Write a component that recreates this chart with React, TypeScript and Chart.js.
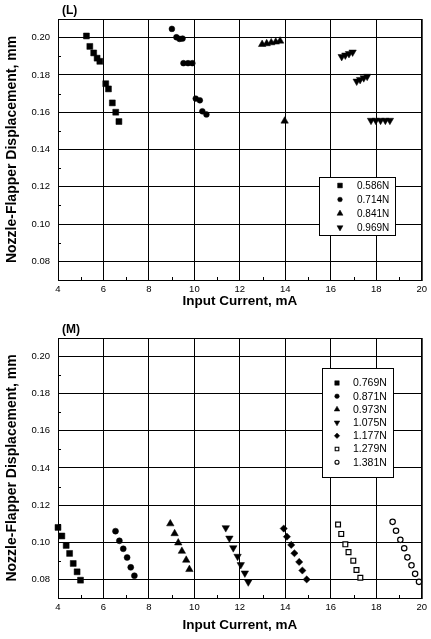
import React, { useEffect, useRef } from 'react';
import { Chart, registerables } from 'chart.js';
import { drawPoint } from 'chart.js/helpers';

Chart.register(...registerables);

// ---------- shared axes ----------
const X_MIN = 4;
const X_MAX = 20;
const Y_MIN = 0.07;
const Y_MAX = 0.21;
const X_TICKS = [4, 6, 8, 10, 12, 14, 16, 18, 20];
const Y_TICKS = [0.08, 0.1, 0.12, 0.14, 0.16, 0.18, 0.2];
const X_MINOR = [5, 7, 9, 11, 13, 15, 17, 19];
const Y_MINOR = [0.09, 0.11, 0.13, 0.15, 0.17, 0.19];
const X_TITLE = 'Input Current, mA';
const Y_TITLE = 'Nozzle-Flapper Displacement, mm';

// ---------- panel (L) ----------
const L_TAG = '(L)';
const L_LABELS = ['0.586N', '0.714N', '0.841N', '0.969N'];
const L1_X = [5.25, 5.4, 5.57, 5.72, 5.84, 6.1, 6.22, 6.39, 6.54, 6.68];
const L1_Y = [0.2009, 0.1953, 0.1918, 0.189, 0.1873, 0.1753, 0.1725, 0.165, 0.16, 0.155];
const L2_X = [9.01, 9.21, 9.35, 9.48, 9.52, 9.72, 9.91, 10.06, 10.24, 10.35, 10.53];
const L2_Y = [0.2047, 0.2002, 0.1993, 0.1995, 0.1863, 0.1863, 0.1863, 0.1673, 0.1664, 0.1605, 0.1588];
const L3_X = [12.98, 13.18, 13.38, 13.58, 13.77, 13.97];
const L3_Y = [0.1964, 0.1968, 0.1973, 0.1977, 0.1982, 0.1553];
const L4_X = [16.48, 16.64, 16.8, 16.96, 17.14, 17.29, 17.45, 17.6, 17.77, 17.98, 18.19, 18.4, 18.6];
const L4_Y = [0.1898, 0.1906, 0.1914, 0.1922, 0.1766, 0.1775, 0.1784, 0.1792, 0.1556, 0.1556, 0.1556, 0.1556, 0.1556];

// ---------- panel (M) ----------
const M_TAG = '(M)';
const M_LABELS = ['0.769N', '0.871N', '0.973N', '1.075N', '1.177N', '1.279N', '1.381N'];
const M1_X = [4.0, 4.17, 4.36, 4.51, 4.67, 4.84, 4.99];
const M1_Y = [0.108, 0.1034, 0.0983, 0.094, 0.0886, 0.0841, 0.0796];
const M2_X = [6.53, 6.7, 6.87, 7.04, 7.2, 7.36];
const M2_Y = [0.106, 0.1008, 0.0965, 0.0918, 0.0865, 0.082];
const M3_X = [8.94, 9.13, 9.29, 9.45, 9.64, 9.78];
const M3_Y = [0.11, 0.1047, 0.0997, 0.0952, 0.0904, 0.0854];
const M4_X = [11.38, 11.54, 11.71, 11.9, 12.04, 12.22, 12.37];
const M4_Y = [0.1078, 0.1022, 0.097, 0.0924, 0.0879, 0.0834, 0.0786];
const M5_X = [13.93, 14.07, 14.26, 14.4, 14.61, 14.75, 14.94];
const M5_Y = [0.1074, 0.103, 0.0986, 0.0941, 0.0894, 0.0848, 0.08];
const M6_X = [16.32, 16.46, 16.64, 16.78, 16.99, 17.13, 17.3];
const M6_Y = [0.1096, 0.1045, 0.0989, 0.0947, 0.0901, 0.0851, 0.0809];
const M7_X = [18.72, 18.87, 19.06, 19.23, 19.37, 19.55, 19.71, 19.88];
const M7_Y = [0.111, 0.1062, 0.1013, 0.0968, 0.0919, 0.0876, 0.083, 0.0787];

const FONT = '"Liberation Sans", Arial, Helvetica, sans-serif';

type Marker = { style: string; rot: number; r: number; open: boolean };

function zip(xs: number[], ys: number[]) {
  return xs.map((x, i) => ({ x, y: ys[i] }));
}

function makeDataset(label: string, xs: number[], ys: number[], m: Marker) {
  return {
    label,
    data: zip(xs, ys),
    showLine: false,
    clip: false,
    pointStyle: m.style,
    rotation: m.rot,
    pointRadius: m.r,
    pointHoverRadius: m.r,
    pointBackgroundColor: m.open ? '#ffffff' : '#000000',
    pointBorderColor: '#000000',
    pointBorderWidth: m.open ? 1.2 : 0.5,
    _marker: m,
  };
}

const overlayPlugin = {
  id: 'overlay',
  beforeDatasetsDraw(chart: any) {
    const { ctx, chartArea: a } = chart;
    ctx.save();
    ctx.strokeStyle = '#000';
    ctx.lineWidth = 1;
    ctx.strokeRect(a.left + 0.5, a.top + 0.5, a.right - a.left, a.bottom - a.top);
    // minor ticks (inward)
    const xs = chart.scales.x;
    const ys = chart.scales.y;
    ctx.beginPath();
    X_MINOR.forEach((v) => {
      const px = Math.round(xs.getPixelForValue(v)) + 0.5;
      ctx.moveTo(px, a.bottom);
      ctx.lineTo(px, a.bottom - 3);
    });
    Y_MINOR.forEach((v) => {
      const py = Math.round(ys.getPixelForValue(v)) + 0.5;
      ctx.moveTo(a.left, py);
      ctx.lineTo(a.left + 3, py);
    });
    ctx.stroke();
    ctx.restore();
  },
  afterDraw(chart: any, _args: any, opts: any) {
    const { ctx } = chart;
    ctx.save();
    // panel tag
    ctx.fillStyle = '#000';
    ctx.font = `bold 12px ${FONT}`;
    ctx.textAlign = 'left';
    ctx.textBaseline = 'middle';
    ctx.fillText(opts.tag, opts.tagX, opts.tagY);
    // legend
    const L = opts.legend;
    ctx.fillStyle = '#fff';
    ctx.fillRect(L.x, L.y, L.w, L.h);
    ctx.strokeStyle = '#000';
    ctx.lineWidth = 1;
    ctx.strokeRect(L.x + 0.5, L.y + 0.5, L.w, L.h);
    chart.data.datasets.forEach((ds: any, i: number) => {
      const m: Marker = ds._marker;
      const y = L.rowY + i * L.rowH;
      ctx.fillStyle = m.open ? '#fff' : '#000';
      ctx.strokeStyle = '#000';
      ctx.lineWidth = m.open ? 1.1 : 0.5;
      drawPoint(ctx, { pointStyle: m.style, rotation: m.rot, radius: m.r * L.markerScale, borderWidth: m.open ? 1.1 : 0.5 } as any, L.markerX, y);
      ctx.fillStyle = '#000';
      ctx.font = `${L.fontSize}px ${FONT}`;
      ctx.textAlign = 'left';
      ctx.textBaseline = 'middle';
      ctx.fillText(ds.label, L.textX, y + 0.5);
    });
    ctx.restore();
  },
};

type PanelSpec = {
  datasets: any[];
  padTop: number;
  padRight: number;
  xHeight: number;
  xTitlePadBottom: number;
  overlay: any;
};

function makeConfig(p: PanelSpec): any {
  return {
    type: 'scatter',
    data: { datasets: p.datasets },
    plugins: [overlayPlugin],
    options: {
      responsive: false,
      animation: false,
      events: [],
      layout: { padding: { top: p.padTop, right: p.padRight, left: 0, bottom: 0 } },
      plugins: {
        legend: { display: false },
        tooltip: { enabled: false },
        title: { display: false },
        overlay: p.overlay,
      },
      scales: {
        x: {
          type: 'linear',
          min: X_MIN,
          max: X_MAX,
          afterBuildTicks: (s: any) => {
            s.ticks = X_TICKS.map((v) => ({ value: v }));
          },
          afterFit: (s: any) => {
            s.height = p.xHeight;
          },
          grid: { color: '#000', lineWidth: 1, drawTicks: false },
          border: { color: '#000', width: 1 },
          ticks: {
            padding: 4,
            color: '#000',
            font: { size: 9.5, family: FONT },
            maxRotation: 0,
            autoSkip: false,
            callback: (v: any) => String(v),
          },
          title: {
            display: true,
            text: X_TITLE,
            color: '#000',
            font: { size: 13.5, weight: 'bold', family: FONT },
            padding: { top: 0, bottom: p.xTitlePadBottom },
          },
        },
        y: {
          type: 'linear',
          min: Y_MIN,
          max: Y_MAX,
          afterBuildTicks: (s: any) => {
            s.ticks = Y_TICKS.map((v) => ({ value: v }));
          },
          afterFit: (s: any) => {
            s.width = 58;
          },
          grid: { color: '#000', lineWidth: 1, drawTicks: false },
          border: { color: '#000', width: 1 },
          ticks: {
            padding: 8,
            color: '#000',
            font: { size: 9.5, family: FONT },
            autoSkip: false,
            callback: (v: any) => Number(v).toFixed(2),
          },
          title: {
            display: true,
            text: Y_TITLE,
            color: '#000',
            font: { size: 14, weight: 'bold', family: FONT },
            padding: { top: 4, bottom: 0 },
          },
        },
      },
    },
  };
}

const TOP_H = 312;
const BOT_H = 327;

export default function App() {
  const topRef = useRef<HTMLCanvasElement>(null);
  const botRef = useRef<HTMLCanvasElement>(null);

  useEffect(() => {
    Chart.defaults.font.family = FONT;
    Chart.defaults.color = '#000';

    const lMarkers: Marker[] = [
      { style: 'rect', rot: 0, r: 4.2, open: false },
      { style: 'circle', rot: 0, r: 2.9, open: false },
      { style: 'triangle', rot: 0, r: 4.3, open: false },
      { style: 'triangle', rot: 180, r: 4.3, open: false },
    ];
    const lData = [
      [L1_X, L1_Y],
      [L2_X, L2_Y],
      [L3_X, L3_Y],
      [L4_X, L4_Y],
    ];
    const top = new Chart(
      topRef.current as HTMLCanvasElement,
      makeConfig({
        datasets: lData.map((d, i) => makeDataset(L_LABELS[i], d[0], d[1], lMarkers[i])),
        padTop: 19,
        padRight: 7,
        xHeight: 32,
        xTitlePadBottom: 3,
        overlay: {
          tag: L_TAG,
          tagX: 62,
          tagY: 11,
          legend: { x: 319, y: 177, w: 76, h: 58, rowY: 185.5, rowH: 14, markerX: 340, textX: 357, fontSize: 10, markerScale: 0.8 },
        },
      })
    );

    const mMarkers: Marker[] = [
      { style: 'rect', rot: 0, r: 4.2, open: false },
      { style: 'circle', rot: 0, r: 3.0, open: false },
      { style: 'triangle', rot: 0, r: 4.3, open: false },
      { style: 'triangle', rot: 180, r: 4.3, open: false },
      { style: 'rectRot', rot: 0, r: 3.6, open: false },
      { style: 'rect', rot: 0, r: 3.4, open: true },
      { style: 'circle', rot: 0, r: 2.7, open: true },
    ];
    const mData = [
      [M1_X, M1_Y],
      [M2_X, M2_Y],
      [M3_X, M3_Y],
      [M4_X, M4_Y],
      [M5_X, M5_Y],
      [M6_X, M6_Y],
      [M7_X, M7_Y],
    ];
    const bot = new Chart(
      botRef.current as HTMLCanvasElement,
      makeConfig({
        datasets: mData.map((d, i) => makeDataset(M_LABELS[i], d[0], d[1], mMarkers[i])),
        padTop: 26,
        padRight: 4,
        xHeight: 41,
        xTitlePadBottom: 6,
        overlay: {
          tag: M_TAG,
          tagX: 62,
          tagY: 18,
          legend: { x: 322, y: 56, w: 71, h: 109, rowY: 71, rowH: 13.2, markerX: 337, textX: 353, fontSize: 10.5, markerScale: 0.75 },
        },
      })
    );

    return () => {
      top.destroy();
      bot.destroy();
    };
  }, []);

  return (
    <div style={{ position: 'fixed', left: 0, top: 0, width: 431, height: 639, background: '#fff' }}>
      <canvas ref={topRef} width={431} height={TOP_H} style={{ position: 'absolute', left: 0, top: 0, width: 431, height: TOP_H }} />
      <canvas ref={botRef} width={431} height={BOT_H} style={{ position: 'absolute', left: 0, top: TOP_H, width: 431, height: BOT_H }} />
    </div>
  );
}
